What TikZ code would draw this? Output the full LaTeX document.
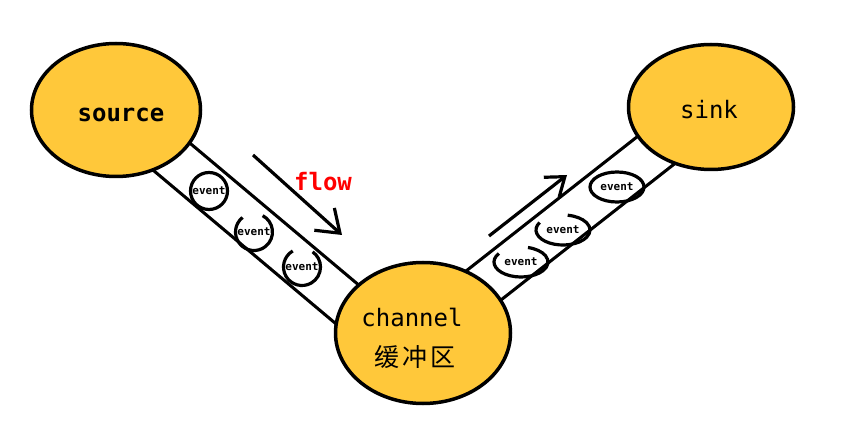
\documentclass[tikz,border=0pt]{standalone}
\usepackage{fontspec}
\setmainfont{DejaVu Sans Mono}
\newfontfamily\cjk{Noto Sans CJK SC}
\usetikzlibrary{shapes.geometric,arrows.meta,backgrounds}
\definecolor{pot}{RGB}{255,200,58}
\tikzset{
  pool/.style={ellipse,fill=pot,draw=black,line width=3.5pt,inner sep=0pt},
  tube/.style={line width=3.2pt,double=white,double distance=41pt},
  evt/.style={inner sep=0pt,line width=3.2pt,font=\bfseries\fontsize{11pt}{13pt}\selectfont},
  big/.style={font=\fontsize{24pt}{28pt}\selectfont},
  flowarr/.style={line width=3.2pt,-{Straight Barb[length=21pt,width=30pt]}}
}
\begin{document}
\begin{tikzpicture}[x=1pt,y=1pt]
\useasboundingbox (0,0) rectangle (841,434);
\node[pool,minimum width=169pt,minimum height=133pt] (src) at (116,324) {};
\node[pool,minimum width=175pt,minimum height=141pt] (chan) at (423,101) {};
\node[pool,minimum width=165pt,minimum height=125pt] (snk) at (711,327) {};
\begin{scope}[on background layer]
\draw[tube] (src.center) -- ([yshift=-35pt]chan.center);
\draw[tube] (chan.center) -- (snk.center);
\end{scope}
% events in the left pipe
\node[evt,circle,draw,minimum size=37pt] (l1) at (209,243) {event};
\node[evt,circle,minimum size=37pt] (l2) at (254,202) {event};
\draw[line width=3.2pt] ([shift={(128:18.5)}]l2.center) arc[start angle=128,end angle=422,radius=18.5];
\node[evt,circle,minimum size=37pt] (l3) at (302,167) {event};
\draw[line width=3.2pt] ([shift={(120:18.5)}]l3.center) arc[start angle=120,end angle=415,radius=18.5];
% events in the right pipe
\node[evt,ellipse,draw,minimum width=54pt,minimum height=30pt] (r1) at (617,247) {event};
\node[evt,ellipse,minimum width=54pt,minimum height=30pt] (r2) at (563,204) {event};
\draw[line width=3.2pt] ([shift={(150:27 and 15)}]r2.center) arc[start angle=150,end angle=440,x radius=27,y radius=15];
\node[evt,ellipse,minimum width=54pt,minimum height=30pt] (r3) at (521,172) {event};
\draw[line width=3.2pt] ([shift={(145:27 and 15)}]r3.center) arc[start angle=145,end angle=435,x radius=27,y radius=15];
% arrows
\coordinate (fa) at (253,279);
\coordinate (fb) at (342,199);
\draw[flowarr] (fa) -- (fb);
\coordinate (ga) at (489,198);
\coordinate (gb) at (567,259);
\draw[line width=3.2pt,-{Straight Barb[length=17pt,width=25pt]}] (ga) -- (gb);
% texts
\node[big] (srctxt) at (121,319) {\bfseries source};
\node[big] (snktxt) at (709,324) {sink};
\node[big] (chantxt) at (412,117) {channel};
\node (buftxt) at (415,77) {\cjk\fontsize{25pt}{28pt}\selectfont 缓\hspace{3pt}冲\hspace{3pt}区};
\node[big,text=red] (flowtxt) at (323,252) {\bfseries flow};
\end{tikzpicture}
\end{document}
